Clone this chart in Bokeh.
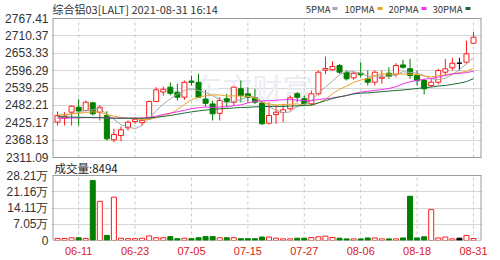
from bokeh.plotting import figure
from bokeh.models import Range1d, FixedTicker, Label, ColumnDataSource
from bokeh.embed import file_html
from bokeh.resources import INLINE

# ---------------- data ----------------
dates = ["06-08", "06-09", "06-10", "06-11", "06-14", "06-15", "06-16", "06-17", "06-18",
         "06-21", "06-22", "06-23", "06-24", "06-25", "06-28", "06-29", "06-30",
         "07-01", "07-02", "07-05", "07-06", "07-07", "07-08", "07-09", "07-12", "07-13",
         "07-14", "07-15", "07-16", "07-19", "07-20", "07-21", "07-22", "07-23", "07-26",
         "07-27", "07-28", "07-29", "07-30",
         "08-02", "08-03", "08-04", "08-05", "08-06", "08-09", "08-10", "08-11", "08-12",
         "08-13", "08-16", "08-17", "08-18", "08-19", "08-20", "08-23", "08-24", "08-25",
         "08-26", "08-27", "08-31"]

opens = [2427.0, 2440.0, 2459.8, 2476.0, 2465.4, 2490.5, 2459.8, 2449.0, 2369.0, 2383.3,
         2408.6, 2429.2, 2426.0, 2438.1, 2494.9, 2526.0, 2542.0, 2525.5, 2509.0, 2562.0,
         2558.0, 2503.0, 2487.0, 2456.0, 2504.0, 2492.6, 2537.0, 2520.0, 2507.0, 2490.0,
         2423.7, 2452.0, 2458.8, 2470.9, 2520.2, 2503.8, 2487.3, 2520.2, 2598.0, 2599.0,
         2613.0, 2591.0, 2572.7, 2587.8, 2569.4, 2558.3, 2571.0, 2587.8, 2583.5, 2615.0,
         2602.3, 2580.0, 2563.9, 2547.4, 2558.3, 2591.1, 2605.6, 2620.7, 2624.0, 2686.3]
highs = [2462.1, 2460.0, 2481.8, 2503.0, 2498.0, 2494.0, 2481.8, 2463.0, 2405.3, 2412.8,
         2432.5, 2443.4, 2440.0, 2498.2, 2541.9, 2544.0, 2558.0, 2553.0, 2564.0, 2580.0,
         2586.0, 2533.0, 2498.0, 2509.0, 2520.0, 2544.0, 2564.0, 2542.0, 2537.0, 2494.0,
         2492.6, 2481.8, 2487.3, 2514.6, 2525.5, 2514.6, 2531.0, 2596.7, 2642.0, 2627.0,
         2618.5, 2596.7, 2594.4, 2624.0, 2596.7, 2596.7, 2596.7, 2607.5, 2620.7, 2632.0,
         2635.0, 2596.7, 2569.4, 2569.4, 2602.3, 2635.0, 2638.4, 2638.4, 2695.2, 2722.4]
lows = [2416.1, 2416.0, 2416.1, 2416.0, 2462.0, 2449.0, 2432.5, 2366.9, 2361.3, 2364.6,
        2399.7, 2421.7, 2416.0, 2435.0, 2492.6, 2514.0, 2515.0, 2498.0, 2500.0, 2547.0,
        2507.0, 2478.0, 2432.5, 2432.5, 2476.0, 2481.8, 2492.6, 2492.6, 2487.0, 2418.0,
        2419.4, 2421.7, 2427.0, 2465.4, 2492.6, 2481.8, 2481.8, 2514.6, 2585.0, 2596.7,
        2585.8, 2563.9, 2566.1, 2574.7, 2547.4, 2547.4, 2553.0, 2569.4, 2574.7, 2602.0,
        2569.4, 2547.4, 2517.9, 2541.9, 2550.7, 2580.3, 2596.7, 2596.7, 2618.7, 2684.0]
closes = [2449.0, 2446.0, 2479.5, 2464.0, 2492.6, 2454.5, 2476.2, 2372.4, 2386.6, 2402.0,
          2427.0, 2436.9, 2433.0, 2494.9, 2533.3, 2535.0, 2522.0, 2509.0, 2558.0, 2558.0,
          2509.0, 2489.0, 2454.5, 2498.0, 2495.0, 2542.0, 2514.6, 2509.0, 2492.6, 2421.7,
          2449.0, 2459.8, 2467.6, 2507.0, 2509.0, 2487.3, 2520.2, 2591.1, 2603.0, 2609.8,
          2591.1, 2569.4, 2587.8, 2582.5, 2558.3, 2591.1, 2575.0, 2577.0, 2613.1, 2607.5,
          2580.3, 2563.0, 2536.6, 2558.3, 2596.7, 2602.3, 2620.7, 2620.7, 2651.5, 2706.0]
volumes = [9000, 9000, 12000, 12000, 9000, 260000, 170000, 22000, 188000, 10000,
           8000, 8000, 10000, 20000, 12000, 12000, 17000, 8000, 10000, 8000,
           12000, 17000, 17000, 12000, 12000, 12000, 8000, 8000, 8000, 15000,
           15000, 10000, 7000, 7000, 10000, 10000, 13000, 16000, 19000, 13000,
           10000, 7000, 7000, 7000, 11000, 11000, 7000, 7000, 7000, 11000,
           192000, 11000, 16000, 134000, 11000, 15000, 7000, 10000, 22000, 8494]

ma5 = [2445, 2448, 2455, 2458, 2466.2, 2467.3, 2473.4, 2451.9, 2436.5, 2418.3,
       2412.8, 2405.0, 2417.1, 2438.8, 2465.0, 2486.6, 2503.6, 2518.8, 2531.5, 2536.4,
       2531.2, 2524.6, 2513.7, 2501.7, 2489.1, 2495.7, 2500.8, 2511.7, 2510.6, 2496.0,
       2477.4, 2466.4, 2458.1, 2461.0, 2478.5, 2486.1, 2498.2, 2522.9, 2542.1, 2562.3,
       2583.0, 2592.9, 2592.2, 2588.1, 2577.8, 2577.8, 2578.9, 2576.8, 2582.9, 2592.7,
       2590.6, 2588.2, 2580.1, 2569.1, 2567.0, 2571.4, 2582.9, 2599.7, 2618.4, 2640.2]
ma10 = [2450, 2452, 2454, 2456, 2459, 2461, 2460, 2452, 2447, 2442.3,
        2440.1, 2439.2, 2434.5, 2437.6, 2441.7, 2449.7, 2454.3, 2468.0, 2485.1, 2500.7,
        2508.9, 2514.1, 2516.3, 2516.6, 2512.8, 2513.5, 2512.7, 2512.7, 2506.2, 2492.5,
        2486.5, 2483.6, 2484.9, 2485.8, 2487.2, 2481.8, 2482.3, 2490.5, 2501.6, 2520.4,
        2534.6, 2545.6, 2557.6, 2565.1, 2570.1, 2580.4, 2585.9, 2584.5, 2585.5, 2585.3,
        2584.2, 2583.6, 2578.4, 2576.0, 2579.9, 2581.0, 2585.6, 2589.9, 2593.8, 2603.6]
ma20 = [2440, 2440, 2441, 2441, 2442, 2442, 2442, 2441, 2440, 2440,
        2440, 2440, 2441, 2443, 2447, 2452, 2457, 2461, 2466, 2471.5,
        2474.5, 2476.6, 2475.4, 2477.1, 2477.2, 2481.6, 2483.5, 2490.3, 2495.6, 2496.6,
        2497.7, 2498.9, 2500.6, 2501.2, 2500.0, 2497.6, 2497.5, 2501.6, 2503.9, 2506.5,
        2510.6, 2514.6, 2521.3, 2525.5, 2528.7, 2531.1, 2534.1, 2537.5, 2543.6, 2552.9,
        2559.4, 2564.6, 2568.0, 2570.6, 2575.0, 2580.7, 2585.8, 2587.3, 2589.7, 2594.5]
ma30 = [2445, 2444, 2444, 2443, 2443, 2442, 2442, 2441, 2440, 2440,
        2440, 2440, 2440, 2441, 2443, 2446, 2449, 2453, 2457, 2461,
        2464, 2467, 2469, 2471, 2472, 2474, 2475, 2476, 2477, 2478.5,
        2478.5, 2479.0, 2478.6, 2480.0, 2480.6, 2481.7, 2483.1, 2490.4, 2497.6, 2504.6,
        2510.0, 2514.4, 2519.6, 2522.5, 2523.3, 2525.2, 2527.0, 2529.2, 2531.1, 2532.7,
        2535.1, 2537.6, 2540.3, 2542.3, 2545.7, 2547.7, 2551.3, 2555.0, 2560.3, 2569.8]

price_ticks = [2311.09, 2368.13, 2425.17, 2482.21, 2539.25, 2596.29, 2653.33, 2710.37, 2767.41]
vol_ticks = [0, 70525, 141050, 211575, 282100]
vol_tick_labels = ["0", "7.05万", "14.11万", "21.16万", "28.21万"]
date_tick_labels = ["06-11", "06-23", "07-05", "07-15", "07-27", "08-06", "08-18", "08-31"]
ma_names = ["5PMA", "10PMA", "20PMA", "30PMA"]
header_text = "综合铝03[LALT] 2021-08-31 16:14"
volume_title = "成交量"
last_volume = volumes[-1]
watermark = "东方财富"

# ---------------- styling / geometry (pixels) ----------------
RED = "#ff1a1a"
GREEN = "#008000"
MA_COLORS = ["#a8a8a8", "#eaa520", "#f032f0", "#1c6b3a"]
BOX = "#9c9c9c"
W, H = 500, 260
FR_L, FR_R = 51, 482          # frame x extent (px)
FR_B = 240                    # frame bottom (px); frame top = 0
PRICE_TOP, PRICE_BOT = 18, 157
VOL_TOP, VOL_BOT = 175, 240
BAR0_PX, BAR_STEP = 57.0, 7.051

px_per_price = (PRICE_BOT - PRICE_TOP) / (price_ticks[-1] - price_ticks[0])
px_per_vol = (VOL_BOT - VOL_TOP) / (vol_ticks[-1] - vol_ticks[0])


def px2x(px):
    return (px - BAR0_PX) / BAR_STEP


def py2p(py):
    return price_ticks[0] + (PRICE_BOT - py) / px_per_price


def py2v(py):
    return vol_ticks[0] + (VOL_BOT - py) / px_per_vol


def v2p(v):  # price-axis coordinate at which a volume value sits
    return py2p(VOL_BOT - (v - vol_ticks[0]) * px_per_vol)


n = len(closes)
xs = list(range(n))
cols = [RED if c > o else (GREEN if c < o else "#000000") for o, c in zip(opens, closes)]
fills = ["#ffffff" if c > o else col for o, c, col in zip(opens, closes, cols)]
src = ColumnDataSource(dict(
    x=xs, h=highs, l=lows,
    top=[max(o, c) for o, c in zip(opens, closes)],
    bot=[min(o, c) for o, c in zip(opens, closes)],
    col=cols, fill=fills, vol=volumes,
    ma5=ma5, ma10=ma10, ma20=ma20, ma30=ma30,
))
date_ticks = [dates.index(t) for t in date_tick_labels]

p = figure(width=W, height=H,
           x_range=Range1d(px2x(FR_L), px2x(FR_R)),
           y_range=Range1d(py2p(FR_B), py2p(0)),
           output_backend="svg", toolbar_location=None,
           min_border_left=FR_L, min_border_right=W - FR_R,
           min_border_top=0, min_border_bottom=H - FR_B)
p.extra_y_ranges = {"vol": Range1d(py2v(FR_B), py2v(0))}
p.background_fill_color = "#ffffff"
p.border_fill_color = "#ffffff"
p.outline_line_color = None
p.xgrid.visible = False
p.ygrid.grid_line_color = "#d6d6d6"

# y axis: price ticks for the upper panel, volume ticks for the lower panel
vol_tick_pos = [v2p(v) for v in vol_ticks]
ya = p.yaxis[0]
ya.ticker = FixedTicker(ticks=price_ticks + vol_tick_pos)
overrides = {t: f"{t:.2f}" for t in price_ticks}
overrides.update({t: s for t, s in zip(vol_tick_pos, vol_tick_labels)})
ya.major_label_overrides = overrides
xa = p.xaxis[0]
xa.ticker = FixedTicker(ticks=date_ticks)
xa.major_label_overrides = {i: dates[i] for i in date_ticks}
for a in (ya, xa):
    a.axis_line_color = None
    a.major_tick_line_color = None
    a.minor_tick_line_color = None
    a.major_tick_out = 0
    a.major_tick_in = 0
    a.minor_tick_out = 0
    a.minor_tick_in = 0
    a.major_label_text_font = "Liberation Sans"
ya.major_label_standoff = 3
ya.major_label_text_font_size = "12px"
ya.major_label_text_color = "#333333"
xa.major_label_standoff = 6
xa.major_label_text_font_size = "11px"
xa.major_label_text_color = "#e02020"

# watermark
p.add_layout(Label(x=px2x(192), y=py2p(86), text=watermark, text_font="Noto Sans CJK SC",
                   text_font_size="30px", text_color="#eaedf2", text_baseline="middle",
                   level="underlay"))

# vertical dashed grid lines, one set per panel
k = len(date_ticks)
p.segment(x0=date_ticks, x1=date_ticks, y0=[price_ticks[0]] * k, y1=[price_ticks[-1]] * k,
          line_color="#c8c8c8", line_dash="3 3", line_width=1)
p.segment(x0=date_ticks, x1=date_ticks, y0=[vol_ticks[0]] * k, y1=[vol_ticks[-1]] * k,
          line_color="#c8c8c8", line_dash="3 3", line_width=1, y_range_name="vol")

# candles
p.segment("x", "h", "x", "l", source=src, color="col", line_width=1)
p.vbar(x="x", width=0.71, top="top", bottom="bot", source=src,
       fill_color="fill", line_color="col", line_width=1)
for key, colr in zip(["ma5", "ma10", "ma20", "ma30"], MA_COLORS):
    p.line("x", key, source=src, color=colr, line_width=1)

# volume bars
p.vbar(x="x", width=0.71, top="vol", bottom=0, source=src, y_range_name="vol",
       fill_color="fill", line_color="col", line_width=1)

# panel borders
p.quad(left=[px2x(52.5)], right=[px2x(480.5)], top=[price_ticks[-1]], bottom=[price_ticks[0]],
       fill_color=None, line_color=BOX, line_width=1)
p.quad(left=[px2x(52.5)], right=[px2x(480.5)], top=[vol_ticks[-1]], bottom=[vol_ticks[0]],
       fill_color=None, line_color=BOX, line_width=1, y_range_name="vol")

# header + legend
p.add_layout(Label(x=px2x(52), y=py2p(8.5), text=header_text, text_font="Noto Sans CJK SC",
                   text_font_size="11px", text_color="#333333", text_baseline="middle"))
leg_end = [330, 374, 418, 462]
mark_px = [334.5, 379.5, 423.5, 467.5]
for name, lx in zip(ma_names, leg_end):
    p.add_layout(Label(x=px2x(lx), y=py2p(8.5), text=name, text_font="Noto Sans CJK SC",
                       text_font_size="9.5px", text_color="#333333", text_baseline="middle",
                       text_align="right"))
p.rect(x=[px2x(m) for m in mark_px], y=[py2p(8)] * 4, width=5, height=3,
       width_units="screen", height_units="screen", fill_color=MA_COLORS, line_color=None)

# volume caption
p.add_layout(Label(x=px2x(54), y=py2p(167), text=f"{volume_title}:{last_volume}",
                   text_font="Noto Sans CJK SC", text_font_size="11.5px",
                   text_color="#222222", text_baseline="middle"))

open("out.html", "w").write(file_html(p, INLINE))
